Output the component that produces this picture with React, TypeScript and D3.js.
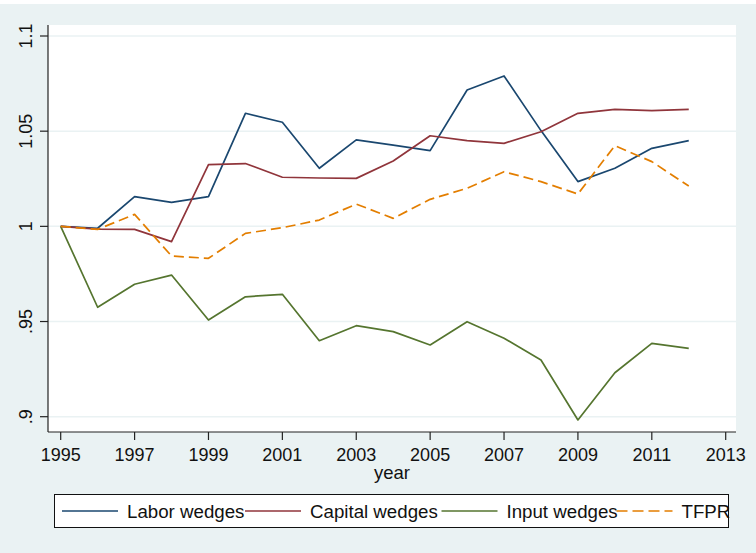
import React, { useEffect, useRef } from 'react';
import * as d3 from 'd3';

// Data
const years: number[] = [1995, 1996, 1997, 1998, 1999, 2000, 2001, 2002, 2003, 2004, 2005, 2006, 2007, 2008, 2009, 2010, 2011, 2012];
const labor: number[] = [1.0, 0.999, 1.0156, 1.0126, 1.0156, 1.0594, 1.0547, 1.0305, 1.0454, 1.0427, 1.0398, 1.0716, 1.079, 1.0503, 1.0235, 1.0305, 1.041, 1.045];
const capital: number[] = [1.0, 0.9985, 0.9984, 0.992, 1.0324, 1.033, 1.0258, 1.0254, 1.0252, 1.0343, 1.0476, 1.045, 1.0436, 1.0497, 1.0594, 1.0615, 1.0608, 1.0615];
const input: number[] = [1.0, 0.9575, 0.9696, 0.9744, 0.9508, 0.963, 0.9643, 0.9399, 0.9478, 0.9447, 0.9377, 0.9499, 0.9412, 0.9298, 0.8983, 0.9231, 0.9385, 0.9359];
const tfpr: number[] = [1.0, 0.9984, 1.0063, 0.9844, 0.9832, 0.9963, 0.9993, 1.0033, 1.0117, 1.0042, 1.0142, 1.02, 1.0287, 1.0235, 1.017, 1.0424, 1.034, 1.0212];

const xTicks: number[] = [1995, 1997, 1999, 2001, 2003, 2005, 2007, 2009, 2011, 2013];
const yTicks: number[] = [0.9, 0.95, 1, 1.05, 1.1];
const yTickLabels: string[] = ['.9', '.95', '1', '1.05', '1.1'];

const seriesNames: string[] = ['Labor wedges', 'Capital wedges', 'Input wedges', 'TFPR'];
const seriesColors: string[] = ['#1a476f', '#90353b', '#55752f', '#e37e00'];

export default function App() {
    const ref = useRef<SVGSVGElement | null>(null);

    useEffect(() => {
        const svg = d3.select(ref.current);
        svg.selectAll('*').remove();

        const width = 756;
        const height = 553;
        const font = '"Liberation Sans", Arial, sans-serif';
        const bg = '#eaf2f3';

        // Background
        svg.append('rect')
            .attr('x', 0).attr('y', 4)
            .attr('width', width).attr('height', height - 4)
            .attr('fill', bg);

        const plot = { left: 48, right: 736, top: 25, bottom: 432 };

        svg.append('rect')
            .attr('x', plot.left).attr('y', plot.top)
            .attr('width', plot.right - plot.left).attr('height', plot.bottom - plot.top)
            .attr('fill', '#ffffff');

        // Scales
        const x = d3.scaleLinear().domain([1995, 2013]).range([60.7, 725.7]);
        const y = d3.scaleLinear().domain([0.9, 1.1]).range([416.7, 36]);

        // Grid lines
        svg.append('g').selectAll('line')
            .data(yTicks)
            .enter().append('line')
            .attr('x1', plot.left).attr('x2', plot.right)
            .attr('y1', d => y(d)).attr('y2', d => y(d))
            .attr('stroke', bg)
            .attr('stroke-width', 1.5);

        // Series
        const allSeries = [labor, capital, input, tfpr];
        const line = d3.line<number>()
            .x((d, i) => x(years[i]))
            .y(d => y(d));

        allSeries.forEach((s, k) => {
            svg.append('path')
                .datum(s)
                .attr('d', line)
                .attr('fill', 'none')
                .attr('stroke', seriesColors[k])
                .attr('stroke-width', 1.7)
                .attr('stroke-linejoin', 'round')
                .attr('stroke-dasharray', k === 3 ? '10,5' : null);
        });

        // Axes
        const axisColor = '#222222';
        svg.append('line')
            .attr('x1', plot.left).attr('x2', plot.left)
            .attr('y1', plot.top).attr('y2', plot.bottom)
            .attr('stroke', axisColor).attr('stroke-width', 1.2);
        svg.append('line')
            .attr('x1', plot.left).attr('x2', plot.right)
            .attr('y1', plot.bottom).attr('y2', plot.bottom)
            .attr('stroke', axisColor).attr('stroke-width', 1.2);

        // Y ticks
        const yg = svg.append('g');
        yg.selectAll('line')
            .data(yTicks)
            .enter().append('line')
            .attr('x1', 40).attr('x2', plot.left)
            .attr('y1', d => y(d)).attr('y2', d => y(d))
            .attr('stroke', axisColor).attr('stroke-width', 1.2);
        yg.selectAll('text')
            .data(yTicks)
            .enter().append('text')
            .attr('transform', d => 'translate(31.5,' + y(d) + ') rotate(-90)')
            .attr('text-anchor', 'middle')
            .style('font-family', font)
            .style('font-size', '18px')
            .attr('fill', '#111')
            .text((d, i) => yTickLabels[i]);

        // X ticks
        const xg = svg.append('g');
        xg.selectAll('line')
            .data(xTicks)
            .enter().append('line')
            .attr('x1', d => x(d)).attr('x2', d => x(d))
            .attr('y1', plot.bottom).attr('y2', 440)
            .attr('stroke', axisColor).attr('stroke-width', 1.2);
        xg.selectAll('text')
            .data(xTicks)
            .enter().append('text')
            .attr('x', d => x(d))
            .attr('y', 460.5)
            .attr('text-anchor', 'middle')
            .style('font-family', font)
            .style('font-size', '18px')
            .attr('fill', '#111')
            .text(d => String(d));

        svg.append('text')
            .attr('x', (plot.left + plot.right) / 2)
            .attr('y', 478.5)
            .attr('text-anchor', 'middle')
            .style('font-family', font)
            .style('font-size', '18.5px')
            .attr('fill', '#111')
            .text('year');

        // Legend
        svg.append('rect')
            .attr('x', 54.5).attr('y', 494.5)
            .attr('width', 674).attr('height', 33)
            .attr('fill', '#ffffff')
            .attr('stroke', '#111')
            .attr('stroke-width', 1);

        const legendX = [62, 245, 441.5, 616.5];
        const lg = svg.append('g').selectAll('g')
            .data(seriesNames)
            .enter().append('g');
        lg.append('line')
            .attr('x1', (d, i) => legendX[i])
            .attr('x2', (d, i) => legendX[i] + 56)
            .attr('y1', 511).attr('y2', 511)
            .attr('stroke', (d, i) => seriesColors[i])
            .attr('stroke-width', 1.7)
            .attr('stroke-dasharray', (d, i) => i === 3 ? '11,5' : null);
        lg.append('text')
            .attr('x', (d, i) => legendX[i] + 65)
            .attr('y', 518.3)
            .style('font-family', font)
            .style('font-size', '18.7px')
            .attr('fill', '#111')
            .text(d => d);
    }, []);

    return (
        <svg ref={ref} width={756} height={553}
            style={{ position: 'absolute', left: 0, top: 0, background: '#ffffff' }} />
    );
}
